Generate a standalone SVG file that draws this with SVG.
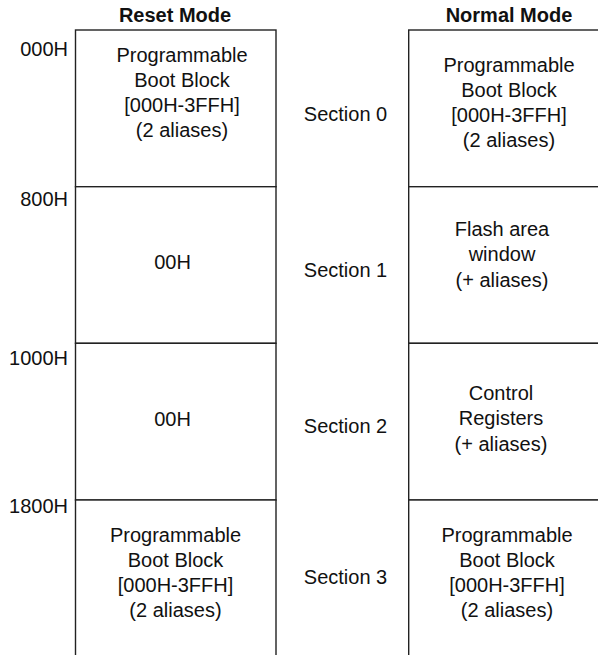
<svg xmlns="http://www.w3.org/2000/svg" width="598" height="655" viewBox="0 0 598 655">
<style>
  text { font-family: "Liberation Sans", Arial, sans-serif; font-size: 20px; fill: #111; }
  .hd { font-weight: bold; text-anchor: middle; }
  .c { text-anchor: middle; }
  .addr { text-anchor: end; }
  .cell { fill: #fff; stroke: #222; stroke-width: 1.4; }
</style>
<rect width="598" height="655" fill="#fff"/>
<g id="headers">
  <text class="hd" x="175" y="22">Reset Mode</text>
  <text class="hd" x="509" y="22">Normal Mode</text>
</g>
<g id="addresses">
  <text class="addr" x="68" y="56">000H</text>
  <text class="addr" x="68" y="206">800H</text>
  <text class="addr" x="68" y="365">1000H</text>
  <text class="addr" x="68" y="513">1800H</text>
</g>
<g id="reset-s0">
  <rect class="cell" x="75.5" y="30" width="200.5" height="156.7"/>
  <text class="c" x="182" y="62">Programmable</text>
  <text class="c" x="182" y="87">Boot Block</text>
  <text class="c" x="182" y="112">[000H-3FFH]</text>
  <text class="c" x="182" y="137">(2 aliases)</text>
</g>
<g id="reset-s1">
  <rect class="cell" x="75.5" y="186.7" width="200.5" height="156.6"/>
  <text class="c" x="172.5" y="269">00H</text>
</g>
<g id="reset-s2">
  <rect class="cell" x="75.5" y="343.3" width="200.5" height="156.7"/>
  <text class="c" x="172.5" y="426">00H</text>
</g>
<g id="reset-s3">
  <rect class="cell" x="75.5" y="500" width="200.5" height="170"/>
  <text class="c" x="175.5" y="542">Programmable</text>
  <text class="c" x="175.5" y="567">Boot Block</text>
  <text class="c" x="175.5" y="592">[000H-3FFH]</text>
  <text class="c" x="175.5" y="617">(2 aliases)</text>
</g>
<g id="sections">
  <text class="c" x="345.5" y="121">Section 0</text>
  <text class="c" x="345.5" y="277">Section 1</text>
  <text class="c" x="345.5" y="433">Section 2</text>
  <text class="c" x="345.5" y="584">Section 3</text>
</g>
<g id="normal-s0">
  <rect class="cell" x="408.7" y="30" width="200" height="156.7"/>
  <text class="c" x="509" y="72">Programmable</text>
  <text class="c" x="509" y="97">Boot Block</text>
  <text class="c" x="509" y="122">[000H-3FFH]</text>
  <text class="c" x="509" y="147">(2 aliases)</text>
</g>
<g id="normal-s1">
  <rect class="cell" x="408.7" y="186.7" width="200" height="156.6"/>
  <text class="c" x="502" y="236">Flash area</text>
  <text class="c" x="502" y="261">window</text>
  <text class="c" x="502" y="287">(+ aliases)</text>
</g>
<g id="normal-s2">
  <rect class="cell" x="408.7" y="343.3" width="200" height="156.7"/>
  <text class="c" x="501" y="400">Control</text>
  <text class="c" x="501" y="425">Registers</text>
  <text class="c" x="501" y="451">(+ aliases)</text>
</g>
<g id="normal-s3">
  <rect class="cell" x="408.7" y="500" width="200" height="170"/>
  <text class="c" x="507" y="542">Programmable</text>
  <text class="c" x="507" y="567">Boot Block</text>
  <text class="c" x="507" y="592">[000H-3FFH]</text>
  <text class="c" x="507" y="617">(2 aliases)</text>
</g>
<g id="connectors"></g>
</svg>
